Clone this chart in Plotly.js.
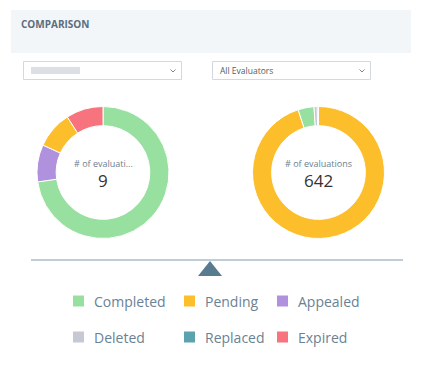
<!DOCTYPE html>
<html>
<head>
<meta charset="utf-8">
<script src="https://cdn.plot.ly/plotly-3.0.1.min.js"></script>
<style>html,body{margin:0;padding:0;background:#fff;}#chart{width:423px;height:365px;}</style>
</head>
<body>
<div id="chart"></div>
<script>
// ---- data ----
var categories = ["Completed", "Pending", "Appealed", "Deleted", "Replaced", "Expired"];
var categoryColors = ["#98e0a0", "#fdbe2c", "#b091de", "#c6c8d4", "#5aa3ae", "#f7737d"];
var leftLabels = ["Completed", "Appealed", "Pending", "Expired"];
var leftValues = [8, 1, 1, 1];
var leftTotal = 9;
var rightLabels = ["Pending", "Completed", "Deleted", "Expired"];
var rightValues = [610, 25, 5, 2];
var rightTotal = 642;
var leftCenterLabel = "# of evaluati...";
var rightCenterLabel = "# of evaluations";
var titleText = "COMPARISON";
var rightDropdownText = "All Evaluators";

// ---- helpers ----
var W = 423, H = 365;
function px(x){ return x / W; }
function py(y){ return 1 - y / H; }
function colorOf(l){ return categoryColors[categories.indexOf(l)]; }
var FONT = "Open Sans, Noto Sans, sans-serif";

function donut(labels, values, cx, cy, r){
  return {
    type: "pie", labels: labels, values: values, sort: false,
    direction: "clockwise", rotation: 0, hole: 0.71,
    marker: {colors: labels.map(colorOf), line: {color: "#ffffff", width: 1}},
    textinfo: "none", hoverinfo: "label+value", showlegend: false,
    domain: {x: [px(cx - r), px(cx + r)], y: [py(cy + r), py(cy - r)]}
  };
}

var traces = [
  donut(leftLabels, leftValues, 103, 172.5, 66),
  donut(rightLabels, rightValues, 318.5, 172.5, 66)
];

var shapes = [];
var annotations = [];
function rect(x0,y0,x1,y1,fill,line){
  shapes.push({type:"rect", xref:"paper", yref:"paper", x0:px(x0), x1:px(x1), y0:py(y1), y1:py(y0),
    fillcolor: fill, line: line || {width:0}, layer:"below"});
}
function path(pts, fill, line){
  var d = pts.map(function(p,i){ return (i? "L":"M") + px(p[0]) + "," + py(p[1]); }).join(" ");
  if (fill) d += " Z";
  shapes.push({type:"path", xref:"paper", yref:"paper", path:d, fillcolor: fill || "rgba(0,0,0,0)", line: line || {width:0}});
}
function text(x,y,t,size,color,anchor,bold){
  annotations.push({xref:"paper", yref:"paper", x:px(x), y:py(y), text: bold ? "<b>"+t+"</b>" : t,
    showarrow:false, xanchor: anchor || "left", yanchor:"middle",
    font:{family:FONT, size:size, color:color}});
}

// header band
rect(11, 10, 411, 53, "#f3f6f9");
text(19, 24, titleText, 10, "#5a6e7e", "left", true);

// dropdowns
rect(23.5, 61.5, 181.5, 79.5, "#ffffff", {color:"#d3d9de", width:1});
rect(212.5, 61.5, 370.5, 79.5, "#ffffff", {color:"#d3d9de", width:1});
// blurred placeholder text
rect(31, 67, 80, 74, "rgba(196,202,208,0.6)");
text(218, 70.5, rightDropdownText, 8.5, "#555b60", "left");
path([[170.5,69.5],[173,72],[175.5,69.5]], null, {color:"#7a8690", width:1});
path([[359.5,69.5],[362,72],[364.5,69.5]], null, {color:"#7a8690", width:1});

// center labels
text(103, 164, leftCenterLabel, 9, "#6a7f91", "center");
text(103, 180, String(leftTotal), 17, "#333333", "center");
text(318.5, 164, rightCenterLabel, 9, "#6a7f91", "center");
text(318.5, 180, String(rightTotal), 17, "#333333", "center");

// divider + triangle
shapes.push({type:"line", xref:"paper", yref:"paper", x0:px(31), x1:px(403), y0:py(260), y1:py(260),
  line:{color:"#a9bcc8", width:1.5}});
path([[198,276],[210,261],[222,276]], "#587b8f");

// legend
var legX = [73, 184, 277];
var legY = [301, 337];
categories.forEach(function(c, i){
  var col = i % 3, row = Math.floor(i / 3);
  var x = legX[col], y = legY[row];
  rect(x, y - 5.5, x + 11, y + 5.5, categoryColors[i]);
  text(x + 19, y, c, 14, "#6a8294", "left");
});

var layout = {
  width: W, height: H, margin: {l:0, r:0, t:0, b:0},
  paper_bgcolor: "#ffffff", plot_bgcolor: "#ffffff",
  showlegend: false, shapes: shapes, annotations: annotations,
  font: {family: FONT}
};
Plotly.newPlot("chart", traces, layout, {staticPlot: true, displayModeBar: false});
</script>
</body>
</html>
